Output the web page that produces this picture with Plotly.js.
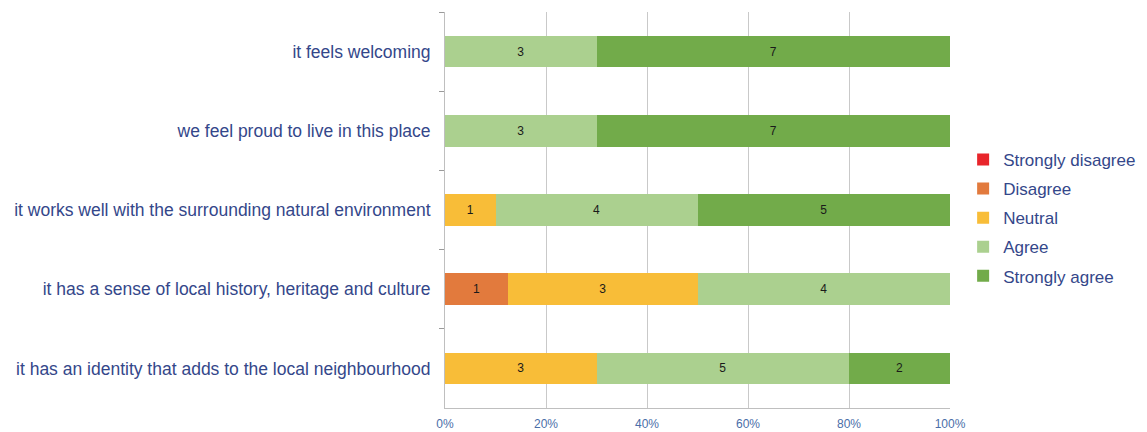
<!DOCTYPE html>
<html>
<head>
<meta charset="utf-8">
<script src="https://cdn.plot.ly/plotly-3.0.1.min.js"></script>
<style>html,body{margin:0;padding:0;background:#fff;}#chart{width:1147px;height:432px;}</style>
</head>
<body>
<div id="chart"></div>
<script>
const categories = [
  "it feels welcoming",
  "we feel proud to live in this place",
  "it works well with the surrounding natural environment",
  "it has a sense of local history, heritage and culture",
  "it has an identity that adds to the local neighbourhood"
];
const seriesNames = ["Strongly disagree", "Disagree", "Neutral", "Agree", "Strongly agree"];
const stronglyDisagree = [0, 0, 0, 0, 0];
const disagree = [0, 0, 0, 1, 0];
const neutral = [0, 0, 1, 3, 3];
const agree = [3, 3, 4, 4, 5];
const stronglyAgree = [7, 7, 5, 0, 2];
const tickVals = [0, 20, 40, 60, 80, 100];
const tickLabels = ["0%", "20%", "40%", "60%", "80%", "100%"];

const colors = ["#e8252b", "#e27a3d", "#f8bd38", "#abd08f", "#72ab4a"];
const allSeries = [stronglyDisagree, disagree, neutral, agree, stronglyAgree];

const traces = allSeries.map((vals, i) => ({
  type: "bar",
  orientation: "h",
  name: seriesNames[i],
  y: categories,
  x: vals,
  text: vals.map(v => v ? String(v) : ""),
  textposition: "inside",
  insidetextanchor: "middle",
  textangle: 0,
  textfont: {family: "Liberation Sans, Arial, sans-serif", size: 12, color: "#1a1a1a"},
  marker: {color: colors[i], line: {width: 0}},
  legendgroup: "g" + i,
  hoverinfo: "none"
}));

const layout = {
  width: 1147,
  height: 432,
  margin: {l: 445, r: 197, t: 12, b: 24, autoexpand: false},
  paper_bgcolor: "#ffffff",
  plot_bgcolor: "#ffffff",
  barmode: "stack",
  barnorm: "percent",
  bargap: 0.6,
  font: {family: "Liberation Sans, Arial, sans-serif", color: "#34478a"},
  xaxis: {
    range: [0, 100],
    tickvals: tickVals,
    ticktext: tickLabels,
    tickfont: {size: 12, color: "#4a6ea8"},
    ticklabelstandoff: 5,
    showgrid: true,
    gridcolor: "#c9c9c9",
    gridwidth: 1,
    showline: true,
    linecolor: "#bfbfbf",
    zeroline: false,
    ticks: "",
    fixedrange: true
  },
  yaxis: {
    type: "category",
    autorange: "reversed",
    tickfont: {size: 17.5, color: "#34478a"},
    showline: true,
    linecolor: "#bfbfbf",
    ticks: "outside",
    tickson: "boundaries",
    ticklen: 5,
    tickcolor: "#9a9a9a",
    ticklabelstandoff: 10,
    showgrid: false,
    zeroline: false,
    fixedrange: true
  },
  showlegend: true,
  legend: {
    x: 1.026,
    xanchor: "left",
    y: 0.48,
    yanchor: "middle",
    traceorder: "grouped",
    tracegroupgap: 4,
    font: {size: 17, color: "#34478a"},
    itemwidth: 30,
    bgcolor: "rgba(0,0,0,0)"
  }
};

Plotly.newPlot("chart", traces, layout, {displayModeBar: false, staticPlot: true});
</script>
</body>
</html>
